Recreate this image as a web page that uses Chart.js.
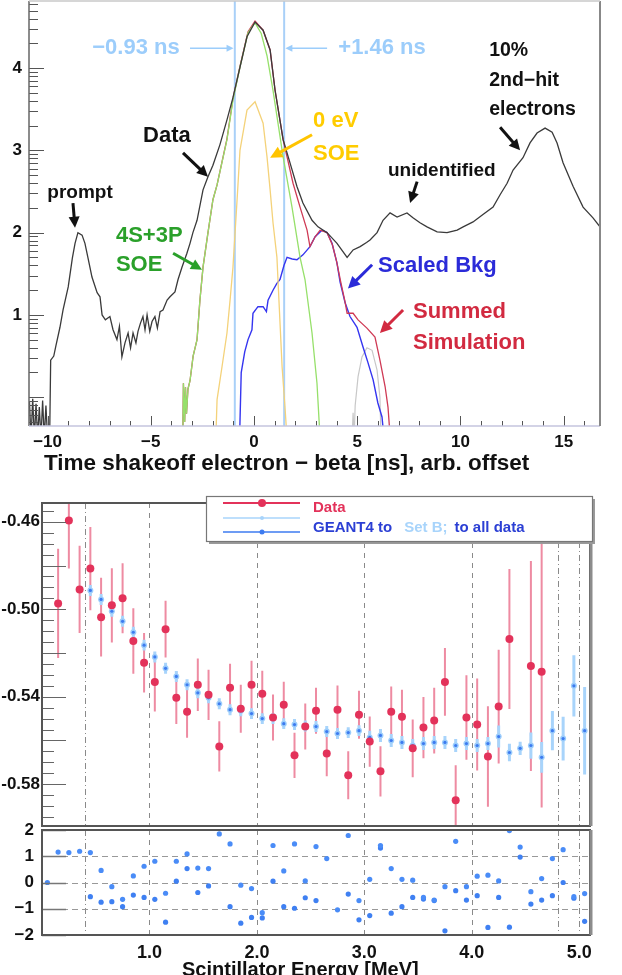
<!DOCTYPE html>
<html>
<head>
<meta charset="utf-8">
<title>Shakeoff electron timing and asymmetry vs scintillator energy</title>
<script src="https://cdn.jsdelivr.net/npm/chart.js@4.4.1/dist/chart.umd.min.js"></script>
<style>
  html, body { margin: 0; padding: 0; background: #fff; }
  body { width: 622px; height: 975px; overflow: hidden; position: relative; }
  .panel { position: absolute; left: 0; width: 622px; }
  #timePanel { top: 0; height: 480px; }
  #asymPanel { top: 480px; height: 350px; }
  #residPanel { top: 812px; height: 176px; }
</style>
</head>
<body>
<div class="panel" id="timePanel"><canvas id="timeChart"></canvas></div>
<div class="panel" id="asymPanel"><canvas id="asymChart"></canvas></div>
<div class="panel" id="residPanel"><canvas id="residChart"></canvas></div>
<script>
// ---------- top panel: time spectrum, [t (ns), log10 counts] ----------
const windowEdges = [-0.93, 1.46];
const timeTicks = [-10, -5, 0, 5, 10, 15];
const decadeTicks = [1, 2, 3, 4];

const dataCurve = [
  [-10.88,-0.05],[-10.8,-0.5],[-10.72,-0.02],[-10.64,-0.5],[-10.56,-0.08],[-10.48,-0.5],
  [-10.4,-0.12],[-10.32,-0.5],[-10.24,-0.04],[-10.16,-0.5],[-10.08,-0.1],[-10.0,-0.5],
  [-9.9,-0.5],[-9.85,0.45],[-9.7,0.5],[-9.6,0.62],[-9.4,0.85],[-9.25,1.06],[-9.0,1.34],
  [-8.8,1.69],[-8.67,1.87],[-8.53,2.0],[-8.33,1.97],[-8.19,1.87],[-8.04,1.69],[-7.85,1.46],
  [-7.6,1.27],[-7.46,1.22],[-7.36,1.0],[-7.2,0.94],[-6.98,0.98],[-6.83,0.82],[-6.64,0.70],
  [-6.52,0.86],[-6.4,0.49],[-6.25,0.66],[-6.1,0.78],[-5.98,0.6],[-5.86,0.78],[-5.72,0.66],
  [-5.62,0.8],[-5.5,0.9],[-5.38,0.98],[-5.28,0.82],[-5.18,1.0],[-5.05,0.8],[-4.94,0.92],
  [-4.8,0.98],[-4.68,0.84],[-4.55,1.04],[-4.41,1.06],[-4.21,1.18],[-4.07,1.22],[-3.83,1.28],
  [-3.68,1.43],[-3.49,1.58],[-3.25,1.75],[-3.1,1.87],[-2.96,2.0],[-2.76,2.15],[-2.47,2.52],
  [-2.23,2.68],[-1.99,2.82],[-1.65,3.07],[-1.31,3.37],[-1.02,3.64],[-0.68,4.01],[-0.34,4.38],
  [0.05,4.56],[0.44,4.46],[0.78,4.22],[1.02,3.73],[1.41,3.13],[1.74,2.85],[2.08,2.56],
  [2.37,2.36],[2.81,2.15],[3.1,2.07],[3.54,2.0],[4.02,1.87],[4.51,1.70],[4.8,1.79],
  [5.14,1.83],[5.45,1.88],[5.62,1.91],[5.96,2.0],[6.25,2.15],[6.59,2.24],[6.93,2.19],
  [7.41,2.24],[7.7,2.18],[8.04,2.12],[8.38,2.07],[8.87,2.01],[9.35,2.0],[9.84,2.03],
  [10.13,2.07],[10.61,2.13],[11.09,2.22],[11.58,2.31],[11.92,2.46],[12.26,2.6],[12.55,2.76],
  [13.03,2.91],[13.37,3.09],[13.71,3.21],[14.1,3.27],[14.44,3.22],[14.68,3.09],[14.97,2.85],
  [15.46,2.56],[15.94,2.31],[16.42,2.18],[16.76,2.07]
];
const soe4s3p = [
  [-3.45,-0.5],[-3.42,0.17],[-3.36,-0.3],[-3.32,0.12],[-3.27,-0.2],[-3.2,0.1],[-3.1,0.2],
  [-2.95,0.5],[-2.76,0.7],[-2.62,1.18],[-2.47,1.58],[-2.23,2.0],[-1.99,2.4],[-1.79,2.58],
  [-1.31,3.13],[-1.02,3.61],[-0.68,4.01],[-0.29,4.43],[0.05,4.55],[0.35,4.42],[0.63,4.15],
  [0.92,3.73],[1.41,2.92],[1.84,2.31],[2.23,1.70],[2.47,1.43],[2.81,0.78],[3.05,0.17],[3.2,-0.5]
];
const soeZero = [
  [-1.95,-0.5],[-1.85,-0.5],[-1.79,-0.03],[-1.55,0.37],[-1.31,0.78],[-1.16,1.18],[-1.02,1.58],
  [-0.82,2.4],[-0.68,3.0],[-0.34,3.49],[0.05,3.59],[0.44,3.33],[0.63,2.92],[0.78,2.52],
  [0.92,2.12],[1.11,1.70],[1.16,1.43],[1.36,0.37],[1.5,-0.12],[1.6,-0.5]
];
const scaledBkg = [
  [-0.7,-0.5],[-0.62,0.3],[-0.45,0.55],[-0.29,0.7],[-0.1,0.82],[-0.05,1.02],[0.19,1.1],
  [0.44,1.1],[0.6,1.04],[0.68,1.18],[0.92,1.3],[1.1,1.38],[1.26,1.43],[1.45,1.6],[1.6,1.70],
  [1.85,1.68],[2.08,1.67],[2.37,1.73],[2.71,1.83],[2.96,1.95],[3.29,2.03],[3.54,2.0],
  [3.78,1.87],[4.02,1.63],[4.17,1.4],[4.41,1.15],[4.65,0.98],[4.99,0.85],[5.28,0.61],
  [5.52,0.42],[5.77,0.21],[6.0,-0.07],[6.2,-0.24],[6.3,-0.5]
];
const summedSim = [
  [-3.45,-0.5],[-3.42,0.17],[-3.36,-0.3],[-3.32,0.12],[-3.27,-0.2],[-3.2,0.1],[-3.1,0.2],
  [-2.95,0.5],[-2.76,0.7],[-2.62,1.18],[-2.47,1.58],[-2.23,2.0],[-1.99,2.4],[-1.79,2.58],
  [-1.31,3.14],[-1.02,3.63],[-0.68,4.02],[-0.29,4.44],[0.05,4.57],[0.44,4.46],[0.78,4.22],
  [1.02,3.73],[1.41,3.13],[1.6,2.92],[1.89,2.6],[2.23,2.31],[2.57,2.03],[2.71,1.83],
  [2.96,1.95],[3.2,2.03],[3.54,2.0],[3.8,1.85],[4.0,1.65],[4.2,1.4],[4.4,1.17],[4.51,1.02],
  [4.8,1.02],[5.04,0.94],[5.47,0.84],[5.86,0.73],[6.1,0.45],[6.35,0.13],[6.49,-0.12],[6.6,-0.5]
];
const lateComponent = [
  [4.75,-0.5],[4.8,-0.19],[4.85,-0.5],[4.9,-0.1],[5.04,0.25],[5.23,0.49],[5.47,0.6],
  [5.72,0.57],[5.96,0.33],[6.1,0.0],[6.15,-0.5]
];

// ---------- bottom panels: asymmetry vs scintillator energy ----------
const energyBins = [
  0.05,0.15,0.25,0.35,0.45,0.55,0.65,0.75,0.85,0.95,
  1.05,1.15,1.25,1.35,1.45,1.55,1.65,1.75,1.85,1.95,
  2.05,2.15,2.25,2.35,2.45,2.55,2.65,2.75,2.85,2.95,
  3.05,3.15,3.25,3.35,3.45,3.55,3.65,3.75,3.85,3.95,
  4.05,4.15,4.25,4.35,4.45,4.55,4.65,4.75,4.85,4.95,
  5.05
];
const energyTicks = [1, 2, 3, 4, 5];
const asymTicks = [-0.46, -0.50, -0.54, -0.58];
const residTicks = [2, 1, 0, -1, -2];

const dataAsym = [
  null,-0.4973,-0.4594,-0.4909,-0.4814,-0.5036,-0.4982,-0.4950,-0.5145,-0.5245,
  -0.5332,-0.5091,-0.5405,-0.5468,-0.5345,-0.5391,-0.5627,-0.5359,-0.5455,-0.5345,
  -0.5386,-0.5495,-0.5436,-0.5668,-0.5536,-0.5464,-0.5659,-0.5459,-0.5759,-0.5482,
  -0.5605,-0.5741,-0.5468,-0.5491,-0.5636,-0.5541,-0.5509,-0.5332,-0.5873,-0.5495,
  -0.5527,-0.5673,-0.5445,-0.5136,null,-0.5259,-0.5286,null,null,null,
  null
];
const dataErr = [
  null,0.025,0.022,0.020,0.019,0.018,0.017,0.016,0.015,0.0136,
  0.0135,0.013,0.012,0.012,0.012,0.0115,0.0115,0.011,0.011,0.011,
  0.0105,0.0105,0.0105,0.0103,0.0105,0.0105,0.0105,0.011,0.011,0.011,
  0.0115,0.0115,0.0115,0.0123,0.0132,0.014,0.015,0.0155,0.016,0.0193,
  0.021,0.023,0.026,0.032,null,0.048,0.062,null,null,null,
  null
];
const g4AllData = [
  null,null,null,null,-0.4914,-0.4955,-0.5009,-0.5055,-0.5105,-0.5164,
  -0.5218,-0.5270,-0.5307,-0.5345,-0.5382,-0.5405,-0.5432,-0.5459,-0.5464,-0.5477,
  -0.5500,-0.5500,-0.5523,-0.5527,-0.5534,-0.5536,-0.5559,-0.5568,-0.5564,-0.5555,
  -0.5586,-0.5577,-0.5600,-0.5609,-0.5623,-0.5614,-0.5609,-0.5609,-0.5623,-0.5614,
  -0.5623,-0.5614,-0.5582,-0.5655,-0.5636,-0.5623,-0.5677,-0.5555,-0.5591,-0.5350,
  -0.5555
];
const g4AllErr = [
  null,null,null,null,0.0015,0.0015,0.0015,0.0015,0.0015,0.0015,
  0.0015,0.0015,0.0015,0.0015,0.0015,0.0015,0.0015,0.0015,0.0015,0.0015,
  0.0015,0.0015,0.0015,0.0015,0.0015,0.0015,0.0015,0.0015,0.0015,0.0015,
  0.002,0.002,0.002,0.002,0.002,0.002,0.002,0.002,0.002,0.002,
  0.002,0.002,0.003,0.0025,0.002,0.004,0.005,0.007,0.008,0.012,
  0.018
];
const g4SetB = [
  null,null,null,null,-0.4914,-0.4955,-0.5009,-0.5055,-0.5105,-0.5164,
  -0.5218,-0.5270,-0.5307,-0.5345,-0.5382,-0.5405,-0.5432,-0.5459,-0.5464,-0.5477,
  -0.5500,-0.5500,-0.5523,-0.5527,-0.5534,-0.5536,-0.5559,-0.5568,-0.5564,-0.5555,
  -0.5586,-0.5577,-0.5600,-0.5609,-0.5623,-0.5614,-0.5609,-0.5609,-0.5623,-0.5614,
  -0.5623,-0.5614,-0.5582,-0.5655,-0.5636,-0.5623,-0.5677,-0.5555,-0.5591,-0.5350,
  -0.5555
];
const g4SetBErr = [
  null,null,null,null,0.0025,0.0025,0.0025,0.0025,0.0025,0.0025,
  0.0025,0.0025,0.0025,0.0025,0.0025,0.0025,0.0025,0.0025,0.0025,0.0025,
  0.0025,0.0025,0.0025,0.0025,0.0025,0.0025,0.0025,0.0025,0.0025,0.0025,
  0.003,0.003,0.003,0.003,0.003,0.003,0.003,0.003,0.003,0.003,
  0.003,0.003,0.005,0.004,0.003,0.006,0.007,0.009,0.010,0.014,
  0.02
];
const residSetB = [
  0,1.16,1.14,1.19,1.14,0.46,-0.16,-0.64,0.25,0.62,
  0.81,-0.41,0.81,1.09,0.55,0.53,1.85,1.47,-0.10,-0.23,
  -1.15,1.41,0.44,1.47,0.06,1.37,0.91,-1.04,1.79,-0.69,
  0.12,1.41,0.53,0.12,0.09,-0.57,-0.67,-0.16,1.57,-0.16,
  0.24,0.28,0.06,1.98,1.35,-0.35,0.15,0.91,1.25,-0.54,
  -0.42
];
const residAll = [
  null,null,null,null,-0.54,-0.75,-0.73,-0.92,-0.48,-0.57,
  -0.64,-1.51,0.05,0.53,-0.38,-0.13,null,-0.92,-1.55,-1.33,
  -1.35,0.05,-0.92,-0.98,-0.58,-0.69,null,null,-0.44,-1.42,
  -1.26,1.31,-1.17,-0.92,-0.57,-0.63,-0.69,-1.84,-0.31,-0.67,
  -0.50,-1.71,-0.57,-1.70,0.97,-0.82,-0.67,-0.50,0.00,-0.60,
  -1.48
];

const FONT = '"Liberation Sans", Arial, Helvetica, sans-serif';
Chart.defaults.font.family = FONT;
Chart.defaults.font.weight = 'bold';
Chart.defaults.color = '#111';
Chart.defaults.animation = false;
Chart.defaults.plugins.legend.display = false;
Chart.defaults.plugins.tooltip.enabled = false;

const MINUS = '\u2212';
const signed = v => v < 0 ? MINUS + Math.abs(v) : String(v);

// fixed axis boxes so the frames land where they should
const fixWidth = w => s => { s.width = w; s.paddingTop = 0; s.paddingBottom = 0; };
const fixHeight = h => s => { s.height = h; s.paddingLeft = 0; s.paddingRight = 0; };

function arrow(ctx, x1, y1, x2, y2, color, width, head) {
  const a = Math.atan2(y2 - y1, x2 - x1);
  const hw = head * 0.5;
  ctx.save();
  ctx.strokeStyle = color;
  ctx.fillStyle = color;
  ctx.lineWidth = width;
  ctx.beginPath();
  ctx.moveTo(x1, y1);
  ctx.lineTo(x2 - Math.cos(a) * head * 0.8, y2 - Math.sin(a) * head * 0.8);
  ctx.stroke();
  ctx.beginPath();
  ctx.moveTo(x2, y2);
  ctx.lineTo(x2 - head * Math.cos(a) + hw * Math.sin(a), y2 - head * Math.sin(a) - hw * Math.cos(a));
  ctx.lineTo(x2 - head * Math.cos(a) - hw * Math.sin(a), y2 - head * Math.sin(a) + hw * Math.cos(a));
  ctx.closePath();
  ctx.fill();
  ctx.restore();
}

// labels on the time spectrum, placed in (ns, log10 counts)
const timeNotes = [
  { lines: [MINUS + Math.abs(windowEdges[0]).toFixed(2) + ' ns'], x: -5.72, e: 4.24, color: '#9ccdfb', size: 22, align: 'center' },
  { lines: ['+' + windowEdges[1].toFixed(2) + ' ns'], x: 6.2, e: 4.24, color: '#9ccdfb', size: 22, align: 'center' },
  { lines: ['Data'], x: -4.22, e: 3.17, color: '#111', size: 22, align: 'center' },
  { lines: ['prompt'], x: -8.43, e: 2.49, color: '#111', size: 19, align: 'center' },
  { lines: ['4S+3P', 'SOE'], x: -6.69, e: 1.96, gap: 29, color: '#2aa02a', size: 22, align: 'left' },
  { lines: ['0 eV', 'SOE'], x: 2.86, e: 3.36, gap: 33, color: '#ffcc00', size: 22, align: 'left' },
  { lines: ['10%', '2nd' + MINUS + 'hit', 'electrons'], x: 11.39, e: 4.21, gap: 29.5, color: '#111', size: 19.5, align: 'left' },
  { lines: ['unidentified'], x: 6.49, e: 2.75, color: '#111', size: 19, align: 'left' },
  { lines: ['Scaled Bkg'], x: 6.01, e: 1.6, color: '#2b2bd8', size: 22, align: 'left' },
  { lines: ['Summed', 'Simulation'], x: 7.7, e: 1.04, gap: 31, color: '#d22a40', size: 22, align: 'left' }
];
const timeArrows = [
  { from: [-3.10, 4.24], to: [windowEdges[0] - 0.06, 4.24], color: '#9ccdfb', width: 1.5, head: 7 },
  { from: [3.54, 4.24], to: [windowEdges[1] + 0.06, 4.24], color: '#9ccdfb', width: 1.5, head: 7 },
  { from: [-3.44, 2.97], to: [-2.23, 2.68], color: '#111', width: 3, head: 11 },
  { from: [-8.77, 2.36], to: [-8.67, 2.06], color: '#111', width: 3, head: 11 },
  { from: [-3.92, 1.75], to: [-2.52, 1.55], color: '#2aa02a', width: 3, head: 11 },
  { from: [2.81, 3.19], to: [0.78, 2.91], color: '#ffc400', width: 3, head: 12 },
  { from: [11.92, 3.28], to: [12.89, 3.0], color: '#111', width: 3, head: 11 },
  { from: [7.9, 2.62], to: [7.56, 2.36], color: '#111', width: 3, head: 11 },
  { from: [5.72, 1.61], to: [4.55, 1.32], color: '#2b2bd8', width: 3, head: 12 },
  { from: [7.22, 1.06], to: [6.1, 0.78], color: '#d22a40', width: 3, head: 12 }
];

const timeDecor = {
  id: 'timeDecor',
  afterDatasetsDraw(chart) {
    const { ctx, chartArea: a, scales: { x, y } } = chart;
    ctx.save();
    // inward tick marks: log minor ticks on y, 1 ns ticks on x
    ctx.strokeStyle = '#555';
    ctx.lineWidth = 1;
    ctx.beginPath();
    for (let n = -1; n <= 4; n++) {
      for (let k = 1; k <= 9; k++) {
        const v = k * Math.pow(10, n);
        if (v < y.min || v > y.max) continue;
        const py = Math.round(y.getPixelForValue(v)) + 0.5;
        ctx.moveTo(a.left, py);
        ctx.lineTo(a.left + (k === 1 ? 15 : 9), py);
      }
    }
    for (let t = -10; t <= 16; t++) {
      const px = Math.round(x.getPixelForValue(t)) + 0.5;
      ctx.moveTo(px, a.bottom);
      ctx.lineTo(px, a.bottom - (t % 5 === 0 ? 10 : 5));
    }
    ctx.stroke();
    // frame
    ctx.lineWidth = 1.5;
    ctx.strokeStyle = '#666';
    ctx.beginPath(); ctx.moveTo(a.left, a.top); ctx.lineTo(a.left, a.bottom); ctx.stroke();
    ctx.strokeStyle = '#c4c4de';
    ctx.beginPath(); ctx.moveTo(a.left, a.bottom); ctx.lineTo(a.right, a.bottom); ctx.stroke();
    ctx.strokeStyle = '#888';
    ctx.lineWidth = 2;
    ctx.beginPath(); ctx.moveTo(a.right, a.top); ctx.lineTo(a.right, a.bottom); ctx.stroke();
    ctx.strokeStyle = '#c8c8c8';
    ctx.lineWidth = 1.5;
    ctx.beginPath(); ctx.moveTo(a.left, a.top); ctx.lineTo(a.right, a.top); ctx.stroke();

    const px = v => x.getPixelForValue(v);
    const py = e => y.getPixelForValue(Math.pow(10, e));
    timeArrows.forEach(r => arrow(ctx, px(r.from[0]), py(r.from[1]), px(r.to[0]), py(r.to[1]), r.color, r.width, r.head));
    ctx.textBaseline = 'middle';
    timeNotes.forEach(n => {
      ctx.font = 'bold ' + n.size + 'px ' + FONT;
      ctx.fillStyle = n.color;
      ctx.textAlign = n.align;
      n.lines.forEach((s, i) => ctx.fillText(s, px(n.x), py(n.e) + i * (n.gap || 0)));
    });
    // axis title, starting just right of the frame edge
    ctx.font = 'bold 22.5px ' + FONT;
    ctx.fillStyle = '#111';
    ctx.textAlign = 'left';
    ctx.fillText('Time shakeoff electron ' + MINUS + ' beta [ns], arb. offset', a.left + 15, a.bottom + 38);
    ctx.restore();
  }
};

const toCounts = curve => curve.map(p => ({ x: p[0], y: Math.pow(10, p[1]) }));
const lineSet = (curve, color, width) => ({
  data: toCounts(curve), borderColor: color, borderWidth: width,
  pointRadius: 0, tension: 0, fill: false
});

new Chart(document.getElementById('timeChart'), {
  type: 'line',
  data: {
    datasets: [
      lineSet(dataCurve, '#3a3a3a', 1.3),
      lineSet(soe4s3p, '#96e06a', 1.3),
      lineSet(soeZero, '#f4d27a', 1.3),
      lineSet(summedSim, '#cf3a55', 1.3),
      lineSet(scaledBkg, '#3535f0', 1.4),
      lineSet(lateComponent, '#c8c8c8', 1.2),
      ...windowEdges.map(t => ({
        data: [{ x: t, y: 1e-3 }, { x: t, y: 1e6 }],
        borderColor: '#a9d0f8', borderWidth: 2, pointRadius: 0
      }))
    ]
  },
  options: {
    responsive: true,
    maintainAspectRatio: false,
    layout: { padding: { left: 0, right: 22, top: 1, bottom: 0 } },
    scales: {
      x: {
        type: 'linear', min: -10.9, max: 16.76,
        grid: { display: false, drawTicks: false },
        border: { display: false },
        afterBuildTicks: s => { s.ticks = timeTicks.map(v => ({ value: v })); },
        ticks: { font: { size: 17 }, padding: 6, maxRotation: 0, autoSkip: false, callback: v => signed(v) },
        afterFit: fixHeight(54)
      },
      y: {
        type: 'logarithmic', min: Math.pow(10, -0.35), max: Math.pow(10, 4.815),
        grid: { display: false, drawTicks: false },
        border: { display: false },
        afterBuildTicks: s => { s.ticks = decadeTicks.map(n => ({ value: Math.pow(10, n) })); },
        ticks: { font: { size: 17 }, padding: 7, autoSkip: false, callback: v => String(Math.round(Math.log10(v))) },
        afterFit: fixWidth(29)
      }
    }
  },
  plugins: [timeDecor]
});

// ---------- shared pieces for the energy panels ----------
const pointsOf = vals => energyBins.map((x, i) => ({ x: x, y: vals[i] }));
const dashedAt = [1, 2, 3, 4];
const dashDotAt = [0.4, 4.8, 5.0];

function energyGrid(ctx, a, x) {
  ctx.save();
  ctx.strokeStyle = '#8a8a8a';
  ctx.lineWidth = 1;
  ctx.setLineDash([5, 5]);
  dashedAt.forEach(v => {
    const px = Math.round(x.getPixelForValue(v)) + 0.5;
    ctx.beginPath(); ctx.moveTo(px, a.top); ctx.lineTo(px, a.bottom); ctx.stroke();
  });
  ctx.setLineDash([6, 3, 1, 3]);
  dashDotAt.forEach(v => {
    const px = Math.round(x.getPixelForValue(v)) + 0.5;
    ctx.beginPath(); ctx.moveTo(px, a.top); ctx.lineTo(px, a.bottom); ctx.stroke();
  });
  ctx.restore();
}

function energyFrame(ctx, a) {
  ctx.save();
  ctx.strokeStyle = '#555';
  ctx.lineWidth = 2;
  ctx.strokeRect(a.left, a.top, a.right - a.left, a.bottom - a.top);
  ctx.strokeStyle = '#8c8c8c';
  ctx.lineWidth = 3;
  ctx.beginPath(); ctx.moveTo(a.right + 1, a.top); ctx.lineTo(a.right + 1, a.bottom); ctx.stroke();
  ctx.restore();
}

const errorBars = {
  id: 'errorBars',
  beforeDatasetsDraw(chart) {
    const { ctx, chartArea: a, scales: { x, y } } = chart;
    ctx.save();
    ctx.beginPath();
    ctx.rect(a.left, a.top, a.right - a.left, a.bottom - a.top);
    ctx.clip();
    chart.data.datasets.forEach(ds => {
      if (!ds.errors) return;
      ctx.strokeStyle = ds.errorColor;
      ctx.lineWidth = ds.errorWidth;
      ctx.beginPath();
      ds.data.forEach((p, i) => {
        const err = ds.errors[i];
        if (p.y === null || err === null) return;
        const px = x.getPixelForValue(p.x);
        ctx.moveTo(px, y.getPixelForValue(p.y - err));
        ctx.lineTo(px, y.getPixelForValue(p.y + err));
      });
      ctx.stroke();
    });
    ctx.restore();
  }
};

const asymDecor = {
  id: 'asymDecor',
  beforeDatasetsDraw(chart) {
    energyGrid(chart.ctx, chart.chartArea, chart.scales.x);
  },
  afterDatasetsDraw(chart) {
    const { ctx, chartArea: a, scales: { y } } = chart;
    ctx.save();
    ctx.strokeStyle = '#666';
    ctx.lineWidth = 1;
    ctx.beginPath();
    for (let m = -120; m <= -90; m++) {
      const v = m * 0.005;
      if (v < y.min || v > y.max) continue;
      const py = Math.round(y.getPixelForValue(v)) + 0.5;
      ctx.moveTo(a.left, py);
      ctx.lineTo(a.left + (m % 4 === 0 ? 24 : 12), py);
    }
    ctx.stroke();
    ctx.restore();
    energyFrame(ctx, a);
  },
  afterDraw(chart) {
    // legend box
    const ctx = chart.ctx;
    const L = 206, T = 16, R = 592, B = 61;
    ctx.save();
    ctx.fillStyle = '#9a9a9a';
    ctx.fillRect(L + 3, T + 3, R - L, B - T);
    ctx.fillStyle = '#fff';
    ctx.fillRect(L, T, R - L, B - T);
    ctx.strokeStyle = '#777';
    ctx.lineWidth = 1.2;
    ctx.strokeRect(L + 0.5, T + 0.5, R - L, B - T);
    const rows = [
      { y: 23, color: '#e3325a', width: 2, r: 4 },
      { y: 38, color: '#a8d4fb', width: 1.5, r: 2 },
      { y: 52, color: '#3d7bf0', width: 1.5, r: 2.5 }
    ];
    rows.forEach(r => {
      ctx.strokeStyle = r.color;
      ctx.lineWidth = r.width;
      ctx.beginPath(); ctx.moveTo(223, r.y); ctx.lineTo(300, r.y); ctx.stroke();
      ctx.fillStyle = r.color;
      ctx.beginPath(); ctx.arc(262, r.y, r.r, 0, Math.PI * 2); ctx.fill();
    });
    ctx.font = 'bold 15px ' + FONT;
    ctx.textBaseline = 'middle';
    ctx.textAlign = 'left';
    ctx.fillStyle = '#e3325a';
    ctx.fillText('Data', 313, 28);
    let tx = 313;
    [['GEANT4 to', '#2b3fd4', 12], ['Set B;', '#a8d4fb', 7], ['to all data', '#2b3fd4', 0]].forEach(p => {
      ctx.fillStyle = p[1];
      ctx.fillText(p[0], tx, 48);
      tx += ctx.measureText(p[0]).width + p[2];
    });
    ctx.restore();
  }
};

new Chart(document.getElementById('asymChart'), {
  type: 'scatter',
  data: {
    datasets: [
      {
        data: pointsOf(dataAsym), errors: dataErr, errorColor: '#ee8ba2', errorWidth: 2,
        backgroundColor: '#e3325a', borderColor: '#e3325a', pointRadius: 4, pointBorderWidth: 0
      },
      {
        data: pointsOf(g4AllData), errors: g4AllErr, errorColor: '#3d7bf0', errorWidth: 1.2,
        backgroundColor: '#3d7bf0', borderColor: '#3d7bf0', pointRadius: 1.6, pointBorderWidth: 0
      },
      {
        data: pointsOf(g4SetB), errors: g4SetBErr, errorColor: '#a8d4fb', errorWidth: 3,
        backgroundColor: '#9ccdfb', borderColor: '#9ccdfb', pointRadius: 3, pointBorderWidth: 0
      }
    ]
  },
  options: {
    responsive: true,
    maintainAspectRatio: false,
    layout: { padding: { left: 0, right: 32, top: 23, bottom: 2 } },
    scales: {
      x: { type: 'linear', min: 0, max: 5.1, display: false },
      y: {
        type: 'linear', min: -0.5991, max: -0.4514,
        grid: { display: false, drawTicks: false },
        border: { display: false },
        afterBuildTicks: s => { s.ticks = asymTicks.map(v => ({ value: v })); },
        ticks: { font: { size: 17 }, padding: 2, autoSkip: false, callback: v => v.toFixed(2) },
        afterFit: fixWidth(42)
      }
    }
  },
  plugins: [errorBars, asymDecor]
});

const residDecor = {
  id: 'residDecor',
  beforeDatasetsDraw(chart) {
    const { ctx, chartArea: a, scales: { x, y } } = chart;
    energyGrid(ctx, a, x);
    ctx.save();
    ctx.strokeStyle = '#999';
    ctx.lineWidth = 1;
    ctx.setLineDash([6, 4]);
    [1, 0, -1].forEach(v => {
      const py = Math.round(y.getPixelForValue(v)) + 0.5;
      ctx.beginPath(); ctx.moveTo(a.left, py); ctx.lineTo(a.right, py); ctx.stroke();
    });
    ctx.restore();
  },
  afterDatasetsDraw(chart) {
    const { ctx, chartArea: a, scales: { y } } = chart;
    ctx.save();
    ctx.strokeStyle = '#777';
    ctx.lineWidth = 1.5;
    ctx.beginPath();
    residTicks.forEach(v => {
      const py = Math.round(y.getPixelForValue(v)) + 0.5;
      ctx.moveTo(a.left, py);
      ctx.lineTo(a.left + 24, py);
    });
    ctx.stroke();
    ctx.font = 'bold 20px ' + FONT;
    ctx.fillStyle = '#111';
    ctx.textAlign = 'left';
    ctx.textBaseline = 'middle';
    ctx.fillText('Scintillator Energy [MeV]', 182, a.bottom + 35);
    ctx.restore();
    energyFrame(ctx, a);
  }
};

new Chart(document.getElementById('residChart'), {
  type: 'scatter',
  data: {
    datasets: [
      { data: pointsOf(residSetB), backgroundColor: '#4a8cf7', pointRadius: 2.6, pointBorderWidth: 0 },
      { data: pointsOf(residAll), backgroundColor: '#3f80f2', pointRadius: 2.6, pointBorderWidth: 0 }
    ]
  },
  options: {
    responsive: true,
    maintainAspectRatio: false,
    layout: { padding: { left: 0, right: 32, top: 18, bottom: 0 } },
    scales: {
      x: {
        type: 'linear', min: 0, max: 5.1,
        grid: { display: false, drawTicks: false },
        border: { display: false },
        afterBuildTicks: s => { s.ticks = energyTicks.map(v => ({ value: v })); },
        ticks: { font: { size: 18 }, padding: 7, maxRotation: 0, autoSkip: false, callback: v => v.toFixed(1) },
        afterFit: fixHeight(53)
      },
      y: {
        type: 'linear', min: -2, max: 2,
        grid: { display: false, drawTicks: false },
        border: { display: false },
        afterBuildTicks: s => { s.ticks = residTicks.map(v => ({ value: v })); },
        ticks: { font: { size: 17 }, padding: 8, autoSkip: false, callback: v => signed(v) },
        afterFit: fixWidth(42)
      }
    }
  },
  plugins: [residDecor]
});
</script>
</body>
</html>
